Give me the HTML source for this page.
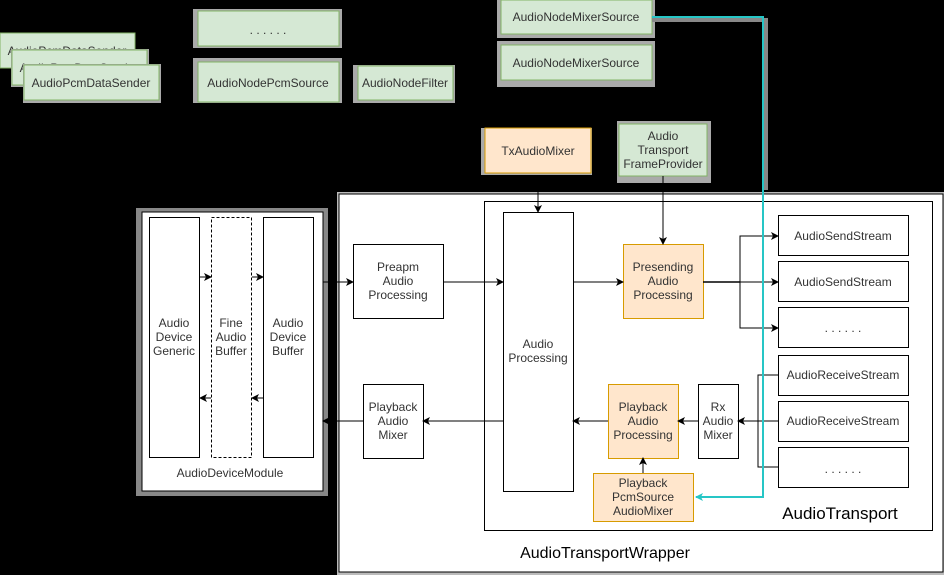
<!DOCTYPE html>
<html><head><meta charset="utf-8"><style>
html,body{margin:0;padding:0;background:#000;}
svg{display:block;font-family:"Liberation Sans",Arial,sans-serif;}
</style></head><body>
<svg width="944" height="575" viewBox="0 0 944 575" xmlns="http://www.w3.org/2000/svg">
<defs>
<marker id="a" markerWidth="8" markerHeight="8" refX="7" refY="4" orient="auto" markerUnits="userSpaceOnUse"><path d="M0,0 L8,4 L0,8 L2,4 z" fill="#000"/></marker>
<marker id="c" markerWidth="8" markerHeight="8" refX="7" refY="4" orient="auto" markerUnits="userSpaceOnUse"><path d="M0,0 L8,4 L0,8 L2,4 z" fill="#26c6c6"/></marker>
</defs>
<g font-size="12" fill="#333">
<rect x="0" y="33" width="135" height="35" fill="#d5e8d4" stroke="#82b366"/>
<text x="67" y="55" text-anchor="middle">AudioPcmDataSender</text>
<rect x="11" y="49" width="138" height="38" fill="#aaa"/>
<rect x="12" y="50" width="135" height="35" fill="#d5e8d4" stroke="#82b366"/>
<text x="79" y="72" text-anchor="middle">AudioPcmDataSender</text>
<rect x="23" y="64" width="138" height="39" fill="#aaa"/>
<rect x="24" y="65" width="135" height="35" fill="#d5e8d4" stroke="#82b366"/>
<text x="91" y="87" text-anchor="middle">AudioPcmDataSender</text>

<rect x="193" y="9" width="149" height="39" fill="#aaa"/>
<rect x="198" y="11" width="141" height="35" fill="#d5e8d4" stroke="#82b366"/>
<text x="268" y="34" text-anchor="middle">. . . . . .</text>
<rect x="193" y="58" width="149" height="45" fill="#aaa"/>
<rect x="198" y="62" width="141" height="40" fill="#d5e8d4" stroke="#82b366"/>
<text x="268" y="87" text-anchor="middle">AudioNodePcmSource</text>
<rect x="353" y="65" width="102" height="38" fill="#aaa"/>
<rect x="358" y="66" width="95" height="34" fill="#d5e8d4" stroke="#82b366"/>
<text x="405" y="87" text-anchor="middle">AudioNodeFilter</text>

<rect x="497" y="0" width="158" height="38" fill="#aaa"/>
<rect x="501" y="0" width="151" height="34" fill="#d5e8d4" stroke="#82b366"/>
<text x="576" y="21" text-anchor="middle">AudioNodeMixerSource</text>
<rect x="497" y="41" width="158" height="46" fill="#aaa"/>
<rect x="501" y="45" width="151" height="35" fill="#d5e8d4" stroke="#82b366"/>
<text x="576" y="67" text-anchor="middle">AudioNodeMixerSource</text>

<rect x="481" y="128" width="111" height="47" fill="#aaa"/>
<rect x="485" y="128" width="106" height="45" fill="#ffe6cc" stroke="#d79b00"/>
<text x="538" y="155" text-anchor="middle">TxAudioMixer</text>
<rect x="617" y="121" width="94" height="62" fill="#aaa"/>
<rect x="619" y="124" width="88" height="52" fill="#d5e8d4" stroke="#82b366"/>
<text x="663" y="140" text-anchor="middle">Audio</text>
<text x="663" y="154" text-anchor="middle">Transport</text>
<text x="663" y="168" text-anchor="middle">FrameProvider</text>

<rect x="337" y="192" width="608" height="384" fill="#bbb"/>
<rect x="339" y="194" width="604" height="378" fill="#fff" stroke="#000"/>
<text x="605" y="558" text-anchor="middle" font-size="16" fill="#000">AudioTransportWrapper</text>
<rect x="484.5" y="201.5" width="448" height="329" fill="#fff" stroke="#000"/>
<text x="840" y="519" text-anchor="middle" font-size="17" fill="#000">AudioTransport</text>

<rect x="136" y="208" width="192" height="288" fill="#888"/>
<rect x="142" y="212" width="181" height="279" fill="#fff" stroke="#000"/>
<rect x="149.5" y="217.5" width="50" height="240" fill="#fff" stroke="#000"/>
<text x="174" y="327" text-anchor="middle">Audio</text><text x="174" y="341" text-anchor="middle">Device</text><text x="174" y="355" text-anchor="middle">Generic</text>
<rect x="211.5" y="217.5" width="40" height="240" fill="#fff" stroke="#000" stroke-dasharray="3,2"/>
<text x="231" y="327" text-anchor="middle">Fine</text><text x="231" y="341" text-anchor="middle">Audio</text><text x="231" y="355" text-anchor="middle">Buffer</text>
<rect x="263.5" y="217.5" width="50" height="240" fill="#fff" stroke="#000"/>
<text x="288" y="327" text-anchor="middle">Audio</text><text x="288" y="341" text-anchor="middle">Device</text><text x="288" y="355" text-anchor="middle">Buffer</text>
<text x="230" y="477" text-anchor="middle">AudioDeviceModule</text>

<rect x="353.5" y="244.5" width="90" height="74" fill="#fff" stroke="#000"/>
<text x="398" y="271" text-anchor="middle">Preapm</text><text x="398" y="285" text-anchor="middle">Audio</text><text x="398" y="299" text-anchor="middle">Processing</text>
<rect x="363.5" y="384.5" width="60" height="74" fill="#fff" stroke="#000"/>
<text x="393" y="411" text-anchor="middle">Playback</text><text x="393" y="425" text-anchor="middle">Audio</text><text x="393" y="439" text-anchor="middle">Mixer</text>

<rect x="503.5" y="212.5" width="70" height="279" fill="#fff" stroke="#000"/>
<text x="538" y="348" text-anchor="middle">Audio</text><text x="538" y="362" text-anchor="middle">Processing</text>

<rect x="623.5" y="244.5" width="80" height="74" fill="#ffe6cc" stroke="#d79b00"/>
<text x="663" y="271" text-anchor="middle">Presending</text><text x="663" y="285" text-anchor="middle">Audio</text><text x="663" y="299" text-anchor="middle">Processing</text>

<rect x="778.5" y="215.5" width="130" height="40" fill="#fff" stroke="#000"/>
<text x="843" y="240" text-anchor="middle">AudioSendStream</text>
<rect x="778.5" y="261.5" width="130" height="40" fill="#fff" stroke="#000"/>
<text x="843" y="286" text-anchor="middle">AudioSendStream</text>
<rect x="778.5" y="307.5" width="130" height="40" fill="#fff" stroke="#000"/>
<text x="843" y="332" text-anchor="middle">. . . . . .</text>
<rect x="778.5" y="355.5" width="130" height="40" fill="#fff" stroke="#000"/>
<text x="843" y="379" text-anchor="middle">AudioReceiveStream</text>
<rect x="778.5" y="401.5" width="130" height="40" fill="#fff" stroke="#000"/>
<text x="843" y="425" text-anchor="middle">AudioReceiveStream</text>
<rect x="778.5" y="447.5" width="130" height="40" fill="#fff" stroke="#000"/>
<text x="843" y="473" text-anchor="middle">. . . . . .</text>

<rect x="698.5" y="384.5" width="40" height="74" fill="#fff" stroke="#000"/>
<text x="718" y="411" text-anchor="middle">Rx</text><text x="718" y="425" text-anchor="middle">Audio</text><text x="718" y="439" text-anchor="middle">Mixer</text>
<rect x="608.5" y="384.5" width="70" height="74" fill="#ffe6cc" stroke="#d79b00"/>
<text x="643" y="411" text-anchor="middle">Playback</text><text x="643" y="425" text-anchor="middle">Audio</text><text x="643" y="439" text-anchor="middle">Processing</text>
<rect x="593.5" y="473.5" width="100" height="48" fill="#ffe6cc" stroke="#d79b00"/>
<text x="643" y="487" text-anchor="middle">Playback</text><text x="643" y="501" text-anchor="middle">PcmSource</text><text x="643" y="515" text-anchor="middle">AudioMixer</text>
</g>

<g stroke="#000" fill="none" stroke-width="1">
<line x1="200" y1="277" x2="211" y2="277" marker-end="url(#a)"/>
<line x1="252" y1="277" x2="263" y2="277" marker-end="url(#a)"/>
<line x1="211" y1="398" x2="200" y2="398" marker-end="url(#a)"/>
<line x1="263" y1="398" x2="252" y2="398" marker-end="url(#a)"/>
<line x1="323" y1="282" x2="353" y2="282" marker-end="url(#a)"/>
<line x1="363" y1="421" x2="323" y2="421" marker-end="url(#a)"/>
<line x1="443" y1="282" x2="503" y2="282" marker-end="url(#a)"/>
<line x1="503" y1="421" x2="423" y2="421" marker-end="url(#a)"/>
<line x1="538" y1="175" x2="538" y2="212" marker-end="url(#a)"/>
<line x1="663" y1="176" x2="663" y2="244" marker-end="url(#a)"/>
<line x1="573" y1="282" x2="623" y2="282" marker-end="url(#a)"/>
<line x1="703" y1="282" x2="740" y2="282" stroke-width="1.5"/>
<polyline points="778,236 740,236 740,328 778,328"/>
<line x1="740" y1="236" x2="778" y2="236" marker-end="url(#a)"/>
<line x1="740" y1="282" x2="778" y2="282" marker-end="url(#a)"/>
<line x1="740" y1="328" x2="778" y2="328" marker-end="url(#a)"/>
<polyline points="778,375 758,375 758,467 778,467"/>
<line x1="778" y1="421" x2="738" y2="421" marker-end="url(#a)"/>
<line x1="698" y1="421" x2="678" y2="421" marker-end="url(#a)"/>
<line x1="608" y1="421" x2="573" y2="421" marker-end="url(#a)"/>
<line x1="643" y1="473" x2="643" y2="458" marker-end="url(#a)"/>
</g>
<polyline points="652,20 766,20 766,190" fill="none" stroke="#888" stroke-width="4"/>
<polyline points="652,17 763,17 763,497 696,497" fill="none" stroke="#26c6c6" stroke-width="2" marker-end="url(#c)"/>
</svg>
</body></html>
